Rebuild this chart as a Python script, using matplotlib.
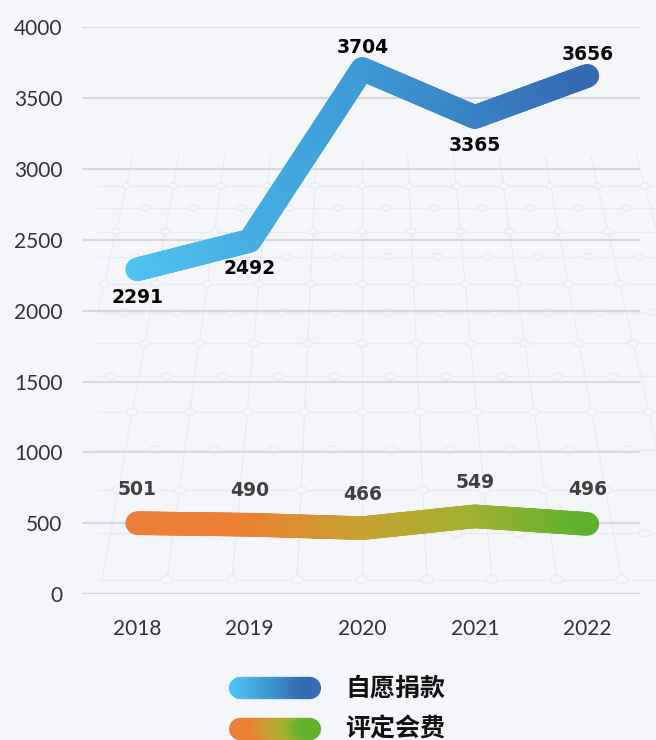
import numpy as np
import matplotlib.pyplot as plt
from matplotlib.collections import LineCollection
from matplotlib.colors import LinearSegmentedColormap
from matplotlib.patches import Ellipse, Rectangle

years = ['2018', '2019', '2020', '2021', '2022']
donation = [2291, 2492, 3704, 3365, 3656]   # 自愿捐款
assessed = [501, 490, 466, 549, 496]        # 评定会费
series_names = ['自愿捐款', '评定会费']

bg = '#f4f6fa'
blue_cmap = LinearSegmentedColormap.from_list('blue', ['#4fc3f0', '#3e9bd6', '#346ab3'])
green_cmap = LinearSegmentedColormap.from_list('og', ['#ea7f3a', '#ec7f30', '#c9a030', '#a4b02f', '#5fb22e'])

plt.rcParams['font.family'] = ['Noto Sans CJK SC', 'DejaVu Sans']

fig = plt.figure(figsize=(6.56, 7.4), dpi=100, facecolor=bg)

# faint perspective grid in the background (decoration only), pixel space
deco = fig.add_axes([0, 0, 1, 1], facecolor=bg, zorder=0)
deco.set_xlim(0, 656)
deco.set_ylim(740, 0)
deco.axis('off')
clip = Rectangle((98, 150), 560, 432, transform=deco.transData, visible=False)
deco.add_patch(clip)
vx, vy, yb = 362, -853, 580
rows = [186]
step = 22
for k in range(12):
    rows.append(rows[-1] + step)
    step *= 1.07
gcol = '#e7eaef'
for r in rows:
    ln, = deco.plot([98, 656], [r, r], color=gcol, lw=0.9, zorder=0)
    ln.set_clip_path(clip)
for n in range(-5, 7):
    xs = [vx + n * 65 * (y - vy) / (yb - vy) for y in (rows[0] - 30, yb)]
    ln, = deco.plot(xs, [rows[0] - 30, yb], color=gcol, lw=0.9, zorder=0)
    ln.set_clip_path(clip)
for i, r in enumerate(rows):
    sc = (r - vy) / (yb - vy)
    for n in range(-5, 7):
        cx = vx + (n + 0.5 * (i % 2)) * 65 * sc
        if cx < 104 or cx > 656:
            continue
        deco.add_patch(Ellipse((cx, r), 12 * sc, 8 * sc, facecolor=bg,
                               edgecolor=gcol, lw=0.9, zorder=1))

ax = fig.add_axes([0.125, 0.197, 0.851, 0.7665], zorder=2)
ax.set_facecolor('none')


def gradient_line(axis, xs, ys, cmap, lw, xmin, xmax, steps=60):
    # split every segment in short pieces so the colour can follow x
    segs, cols = [], []
    for i in range(len(xs) - 1):
        t = np.linspace(0, 1, steps + 1)
        px = xs[i] + (xs[i + 1] - xs[i]) * t
        py = ys[i] + (ys[i + 1] - ys[i]) * t
        for j in range(steps):
            segs.append([(px[j], py[j]), (px[j + 1], py[j + 1])])
            cols.append(cmap((px[j] - xmin) / (xmax - xmin)))
    lc = LineCollection(segs, colors=cols, linewidths=lw, capstyle='round',
                        joinstyle='round', zorder=3)
    axis.add_collection(lc)


x = np.arange(len(years))
gradient_line(ax, x, donation, blue_cmap, 17, 0, len(years) - 1)
gradient_line(ax, x, assessed, green_cmap, 17, 0, len(years) - 1)

# value labels
for i, v in enumerate(donation):
    up = (i == 0 or v >= donation[i - 1]) and (i == len(donation) - 1 or v >= donation[i + 1])
    off = 21 if up else -28
    ax.annotate(str(v), (x[i], v), xytext=(0, off), textcoords='offset pixels',
                ha='center', va='center', fontsize=13.5, fontweight='bold',
                color='#050505', family=['DejaVu Sans'], zorder=4)
for i, v in enumerate(assessed):
    ax.annotate(str(v), (x[i], v), xytext=(0, 34), textcoords='offset pixels',
                ha='center', va='center', fontsize=13.5, fontweight='bold',
                color='#404040', family=['DejaVu Sans'], zorder=4)

ax.set_xlim(-0.49, 4.47)
ax.set_ylim(0, 4000)
ax.set_yticks(range(0, 4001, 500))
ax.set_xticks(x)
ax.set_xticklabels(years)
ax.grid(axis='y', color='#d9d9d9', linewidth=1.6)
ax.set_axisbelow(True)
for s in ax.spines.values():
    s.set_visible(False)
ax.tick_params(length=0, labelsize=15, labelcolor='#333333')
for lab in ax.get_xticklabels() + ax.get_yticklabels():
    lab.set_fontfamily(['Lato', 'DejaVu Sans'])
    lab.set_fontweight('normal')
ax.tick_params(axis='x', pad=18)
ax.tick_params(axis='y', pad=14)

# legend drawn by hand in pixel space
lg = fig.add_axes([0, 0, 1, 1], facecolor='none', zorder=3)
lg.set_xlim(0, 656)
lg.set_ylim(0, 740)
lg.axis('off')
legend_rows = [(52, blue_cmap), (11, green_cmap)]
for (yy, cm), name in zip(legend_rows, series_names):
    gradient_line(lg, [240, 310], [yy, yy], cm, 16, 240, 310)
    lg.text(345, yy, name, fontsize=18, fontweight='bold', color='#111111',
            ha='left', va='center')

fig.savefig('out.png', dpi=100, facecolor=bg)
